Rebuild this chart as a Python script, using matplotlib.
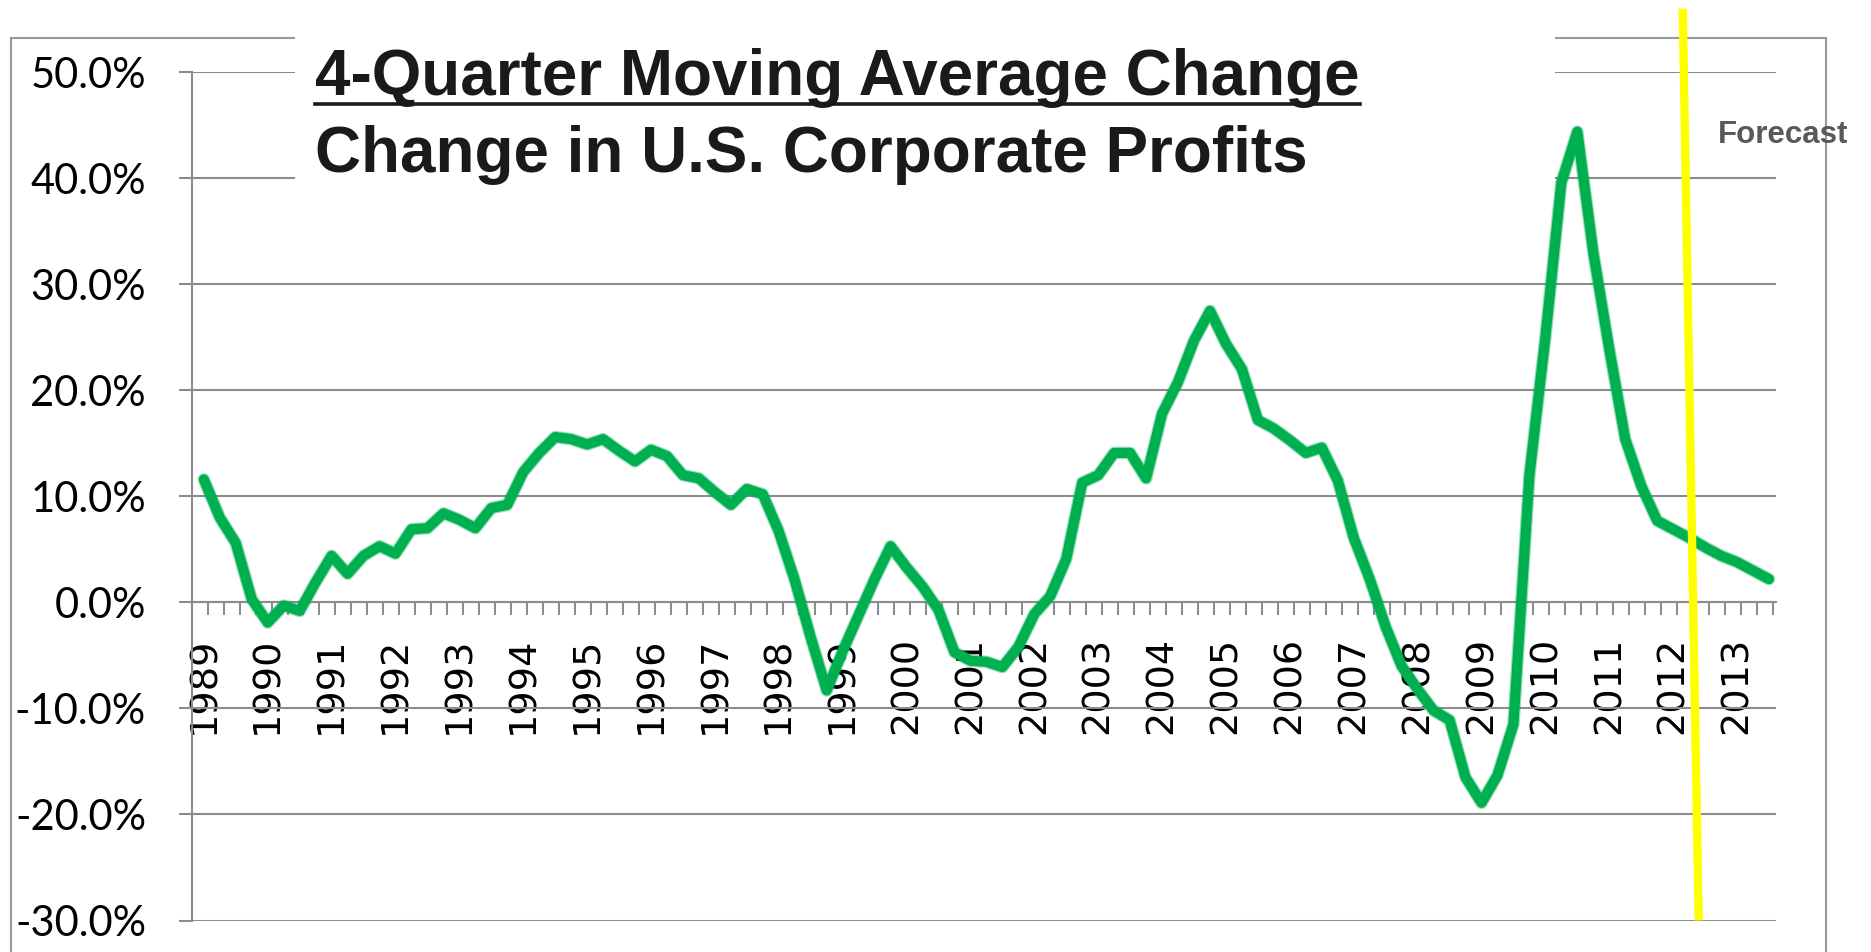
import numpy as np
import matplotlib
matplotlib.use("Agg")
import matplotlib.pyplot as plt
from matplotlib.lines import Line2D
from matplotlib.patches import Rectangle
from matplotlib.ticker import FixedLocator, FixedFormatter

# ---------------- data ----------------
years = [str(y) for y in range(1989, 2014)]
# quarterly 4-quarter moving-average change (%) 1989Q1 .. 2013Q3
profit_change = [
    11.6, 8.0, 5.6, 0.3, -1.9, -0.3, -0.8, 1.9,
    4.4, 2.7, 4.4, 5.3, 4.6, 6.9, 7.0, 8.4,
    7.8, 7.0, 8.9, 9.2, 12.3, 14.1, 15.6, 15.4,
    14.9, 15.4, 14.3, 13.3, 14.4, 13.8, 12.0, 11.7,
    10.4, 9.2, 10.7, 10.2, 6.7, 2.1, -3.3, -8.3,
    -4.6, -1.2, 2.2, 5.3, 3.3, 1.5, -0.7, -4.7,
    -5.5, -5.6, -6.1, -4.2, -1.1, 0.6, 4.1, 11.3,
    12.0, 14.1, 14.1, 11.7, 17.8, 20.8, 24.7, 27.5,
    24.4, 22.0, 17.2, 16.4, 15.3, 14.1, 14.6, 11.5,
    6.1, 2.2, -2.3, -6.0, -8.2, -10.2, -11.1, -16.5,
    -18.9, -16.3, -11.5, 12.0, 25.0, 39.6, 44.4, 33.0,
    23.9, 15.4, 11.0, 7.7, 6.9, 6.1, 5.2, 4.4,
    3.8, 3.0, 2.2,
]
y_ticks = [-30, -20, -10, 0, 10, 20, 30, 40, 50]
y_tick_labels = ['-30.0%', '-20.0%', '-10.0%', '0.0%', '10.0%',
                 '20.0%', '30.0%', '40.0%', '50.0%']
title_line1 = "4-Quarter Moving Average Change"
title_line2 = "Change in U.S. Corporate Profits"
forecast_label = "Forecast"
forecast_x = [92.6, 93.6]     # hand-drawn marker line (category units)
forecast_y = [56.0, -30.0]    # (percent units)

# ---------------- styling ----------------
W, H, DPI = 1871, 952, 100
GRID = '#8c8c8c'
GREEN = '#00B050'

def fx(px):
    return px / W

def fy(py):
    return 1 - py / H

fig = plt.figure(figsize=(W / DPI, H / DPI), dpi=DPI)
fig.patch.set_facecolor('white')

ax_l, ax_r, ax_t, ax_b = 191.7, 1776.0, 72.3, 920.5
ax = fig.add_axes([fx(ax_l), fy(ax_b), (ax_r - ax_l) / W, (ax_b - ax_t) / H])
ax.set_facecolor('none')

n = len(profit_change)
xq = np.arange(n)
tick_offset = 0.76
ax.set_xlim(-tick_offset, 98.44)
ax.set_ylim(y_ticks[0], y_ticks[-1])

# y axis
ax.yaxis.set_major_locator(FixedLocator(y_ticks))
ax.yaxis.set_major_formatter(FixedFormatter(y_tick_labels))
ax.yaxis.grid(True, color=GRID, linewidth=1.5)
ax.tick_params(axis='y', which='major', length=9.4, width=1.5, color=GRID,
               direction='out', pad=23.5, labelsize=30, labelcolor='black')
for lbl in ax.get_yticklabels():
    lbl.set_fontfamily(['Lato', 'DejaVu Sans'])

# x axis (at y=0)
label_pos = list(range(0, n, 4))
ax.xaxis.set_major_locator(FixedLocator(label_pos))
ax.xaxis.set_major_formatter(FixedFormatter(years))
ax.xaxis.set_minor_locator(FixedLocator(np.arange(n + 1) - tick_offset))
ax.tick_params(axis='x', which='major', length=0, pad=24.5, labelsize=27.5,
               labelrotation=90, labelcolor='black')
ax.tick_params(axis='x', which='minor', length=9.4, width=1.5, color=GRID,
               direction='out')
for lbl in ax.get_xticklabels():
    lbl.set_fontfamily('DejaVu Sans')
    lbl.set_fontstretch('condensed')

ax.spines['bottom'].set_position(('data', 0))
ax.spines['bottom'].set_color(GRID)
ax.spines['bottom'].set_linewidth(1.5)
ax.spines['left'].set_color(GRID)
ax.spines['left'].set_linewidth(1.5)
ax.spines['top'].set_visible(False)
ax.spines['right'].set_visible(False)

# white title box (covers gridlines and outer border, not the series)
ax.add_patch(Rectangle((fx(295), fy(232)), (1555 - 295) / W, (232 - 20) / H,
                       transform=fig.transFigure, facecolor='white',
                       edgecolor='none', clip_on=False, zorder=2.5))

# series
ax.plot(xq, profit_change, color=GREEN, lw=9.0, alpha=0.4,
        solid_joinstyle='round', solid_capstyle='round', zorder=3)
ax.plot(xq, profit_change, color=GREEN, lw=7.3,
        solid_joinstyle='round', solid_capstyle='round', zorder=4)

# forecast marker line
ax.plot(forecast_x, forecast_y, color='#FFFF00', lw=6.0, clip_on=False,
        solid_capstyle='butt', zorder=6)

# outer chart border (extends past bottom edge)
fig.patches.append(Rectangle((fx(11), fy(990)), (1826 - 11) / W, (990 - 38) / H,
                             transform=fig.transFigure, fill=False,
                             edgecolor='#9a9a9a', linewidth=1.5, zorder=-1))

title_font = dict(family=['Liberation Sans', 'DejaVu Sans'], weight='bold',
                  size=45.9, color='#1a1a1a')
t1 = fig.text(fx(315), fy(95), title_line1, ha='left', va='baseline',
              zorder=7, **title_font)
t2 = fig.text(fx(315), fy(172), title_line2, ha='left', va='baseline',
              zorder=7, **title_font)

fig.text(fx(1718), fy(143), forecast_label, ha='left', va='baseline',
         family=['Liberation Sans', 'DejaVu Sans'], weight='bold', size=22.5,
         color='#595959', zorder=7)

# underline for first title line
fig.canvas.draw()
bb = t1.get_window_extent(fig.canvas.get_renderer())
fig.add_artist(Line2D([bb.x0 / W, bb.x1 / W], [fy(104), fy(104)],
                      transform=fig.transFigure, color='#1a1a1a',
                      linewidth=2.6, zorder=7))

fig.savefig('out.png', dpi=DPI, facecolor='white')
